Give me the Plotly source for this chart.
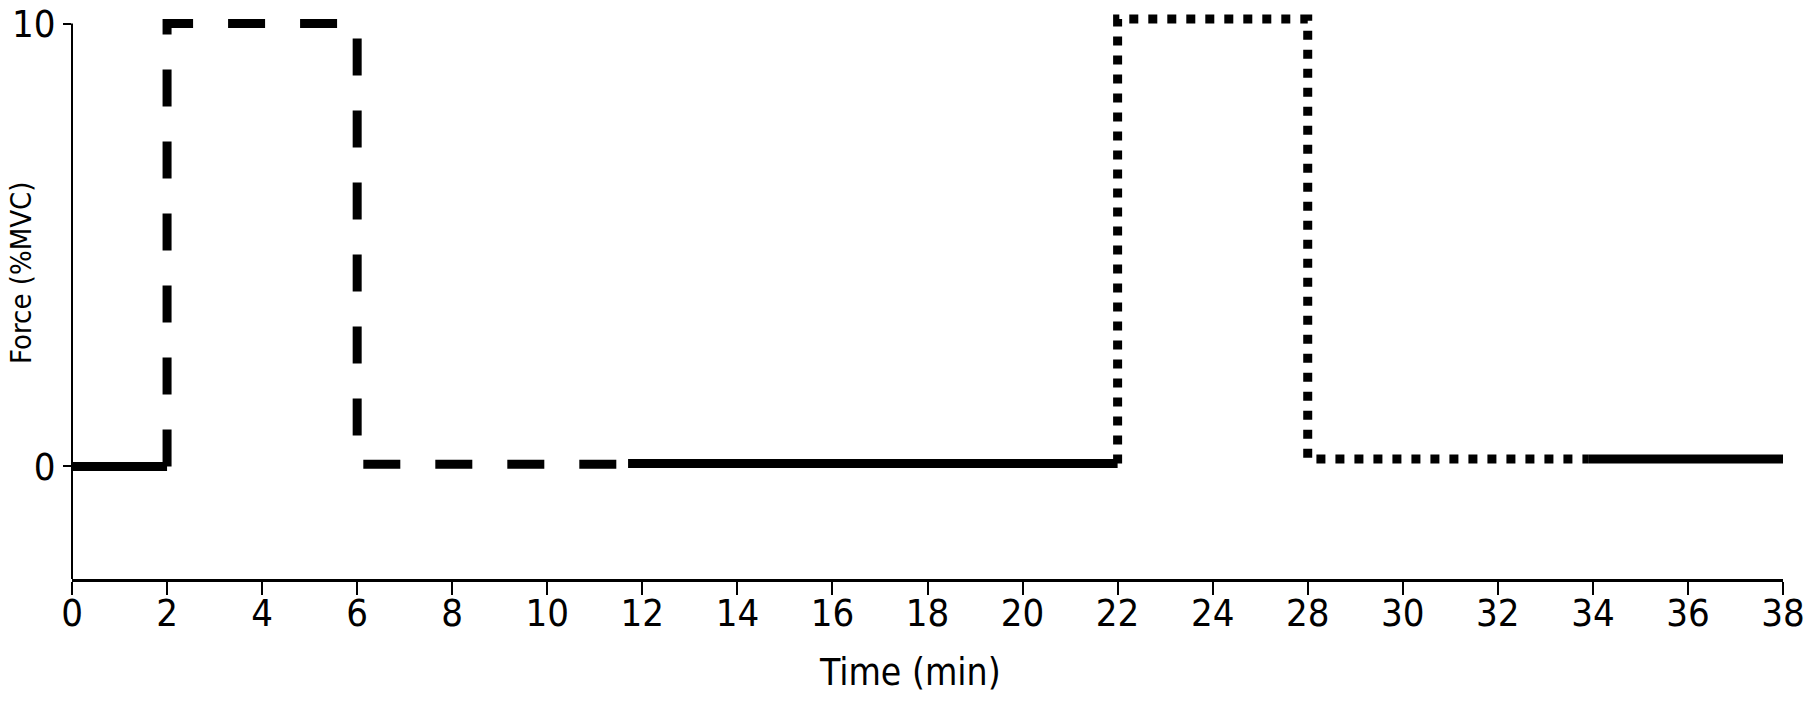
import numpy as np
import plotly.graph_objects as go

# tick labels on the time axis (note: no 26, the axis is evenly spaced per label)
tick_minutes = [0, 2, 4, 6, 8, 10, 12, 14, 16, 18, 20, 22, 24, 28, 30, 32, 34, 36, 38]

# protocol segments (time in min, force in %MVC)
rest1_t = [0, 2]
rest1_f = [0, 0]
task1_t = [2, 2, 6, 6, 11.7]
task1_f = [0, 10, 10, 0.05, 0.05]
rest2_t = [11.7, 22]
rest2_f = [0.07, 0.07]
task2_t = [22, 22, 28, 28, 33.9]
task2_f = [0.07, 10.1, 10.1, 0.17, 0.17]
rest3_t = [33.9, 38]
rest3_f = [0.17, 0.17]

y_ticks = [0, 10]
y_bottom = -2.54
y_top = 10.35

tick_pos = list(range(len(tick_minutes)))


def to_axis(t):
    # map minutes onto the label-spaced axis
    return np.interp(t, tick_minutes, tick_pos)


FONT = "DejaVu Sans Condensed, Liberation Sans Narrow, sans-serif"

segments = [
    (rest1_t, rest1_f, 'solid'),
    (task1_t, task1_f, '37px,35px'),
    (rest2_t, rest2_f, 'solid'),
    (task2_t, task2_f, '9px,10px'),
    (rest3_t, rest3_f, 'solid'),
]

fig = go.Figure()
for t, f, dash in segments:
    fig.add_trace(go.Scatter(x=to_axis(t), y=f, mode='lines',
                             line=dict(color='black', width=9, dash=dash),
                             showlegend=False, hoverinfo='skip'))

# y axis line stops at the top tick
fig.add_shape(type='line', xref='paper', yref='y', x0=0, x1=0, y0=y_bottom, y1=10,
              line=dict(color='black', width=2))

fig.add_annotation(text='Force (%MVC)', xref='paper', yref='paper', x=0, xshift=-51,
                   xanchor='center', y=0.536, yanchor='middle', textangle=-90,
                   showarrow=False, font=dict(family=FONT, size=29, color='black'))
fig.add_annotation(text='Time (min)', xref='paper', yref='paper', x=0.49, y=-0.163,
                   xanchor='center', yanchor='middle', showarrow=False,
                   font=dict(family=FONT, size=37, color='black'))

fig.update_layout(
    template='none',
    width=1805, height=706,
    plot_bgcolor='white', paper_bgcolor='white',
    margin=dict(l=72, r=22, t=8, b=127),
    font=dict(family=FONT, size=38, color='black'),
    xaxis=dict(range=[0, len(tick_minutes) - 1], tickvals=tick_pos,
               ticktext=[str(m) for m in tick_minutes],
               showline=True, linecolor='black', linewidth=2.5,
               ticks='outside', ticklen=13, tickwidth=2, tickcolor='black',
               ticklabelstandoff=-14, ticklabeloverflow='allow', automargin=False,
               showgrid=False, zeroline=False),
    yaxis=dict(range=[y_bottom, y_top], tickvals=y_ticks,
               ticktext=[str(v) for v in y_ticks],
               showline=False, ticks='outside', ticklen=8, tickwidth=2,
               tickcolor='black', ticklabeloverflow='allow', automargin=False,
               showgrid=False, zeroline=False),
)

# page body margin would shift the figure by 8px
fig.write_html("out.html", config={'displayModeBar': False},
               post_script="document.body.style.margin='0';")
